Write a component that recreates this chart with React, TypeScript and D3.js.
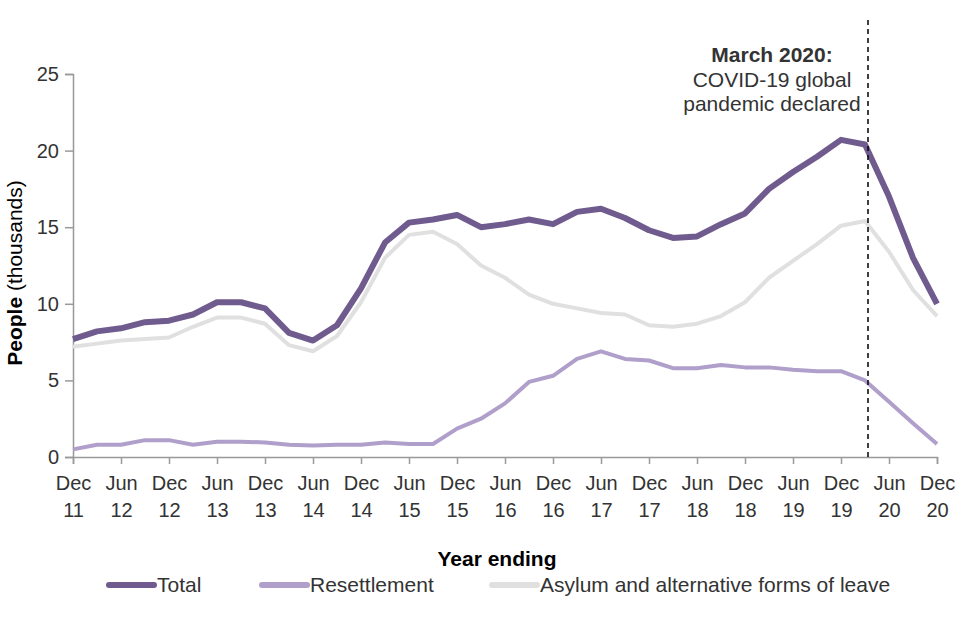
import * as d3 from 'd3';
import { useEffect, useRef } from 'react';

// quarterly, year ending Dec 2011 .. Dec 2020
const quarters = [
  'Dec 11', 'Mar 12', 'Jun 12', 'Sep 12', 'Dec 12', 'Mar 13', 'Jun 13', 'Sep 13', 'Dec 13',
  'Mar 14', 'Jun 14', 'Sep 14', 'Dec 14', 'Mar 15', 'Jun 15', 'Sep 15', 'Dec 15',
  'Mar 16', 'Jun 16', 'Sep 16', 'Dec 16', 'Mar 17', 'Jun 17', 'Sep 17', 'Dec 17',
  'Mar 18', 'Jun 18', 'Sep 18', 'Dec 18', 'Mar 19', 'Jun 19', 'Sep 19', 'Dec 19',
  'Mar 20', 'Jun 20', 'Sep 20', 'Dec 20',
];

const total = [
  7.7, 8.2, 8.4, 8.8, 8.9, 9.3, 10.1, 10.1, 9.7,
  8.1, 7.6, 8.6, 11.0, 14.0, 15.3, 15.5, 15.8,
  15.0, 15.2, 15.5, 15.2, 16.0, 16.2, 15.6, 14.8,
  14.3, 14.4, 15.2, 15.9, 17.5, 18.6, 19.6, 20.7,
  20.4, 17.0, 13.0, 10.0,
];

const resettlement = [
  0.5, 0.8, 0.8, 1.1, 1.1, 0.8, 1.0, 1.0, 0.95,
  0.8, 0.75, 0.8, 0.8, 0.95, 0.85, 0.85, 1.85,
  2.5, 3.5, 4.9, 5.3, 6.4, 6.9, 6.4, 6.3,
  5.8, 5.8, 6.0, 5.85, 5.85, 5.7, 5.6, 5.6,
  5.0, 3.6, 2.2, 0.85,
];

const asylum = [
  7.2, 7.4, 7.6, 7.7, 7.8, 8.5, 9.1, 9.1, 8.7,
  7.3, 6.9, 7.9, 10.1, 13.0, 14.5, 14.7, 13.9,
  12.5, 11.7, 10.6, 10.0, 9.7, 9.4, 9.3, 8.6,
  8.5, 8.7, 9.2, 10.1, 11.7, 12.8, 13.9, 15.1,
  15.4, 13.4, 10.9, 9.2,
];

const yTicks = [0, 5, 10, 15, 20, 25];
const seriesNames = ['Total', 'Resettlement', 'Asylum and alternative forms of leave'];
const eventQuarter = 'Mar 20';
const eventLines = ['March 2020:', 'COVID-19 global', 'pandemic declared'];

const FONT = '"Liberation Sans", Arial, Helvetica, sans-serif';
const TEXT = '#333333';

const App = () => {
  const ref = useRef<SVGSVGElement>(null);

  useEffect(() => {
    const svg = d3.select(ref.current);
    svg.selectAll('*').remove();

    const left = 73, right = 937, top = 74, bottom = 457;
    const x = d3.scalePoint<string>().domain(quarters).range([left, right]);
    const y = d3.scaleLinear().domain([0, 25]).range([bottom, top]);

    const g = svg.append('g').style('font-family', FONT);

    // y axis
    const yAxis = g.append('g').attr('transform', `translate(${left},0)`)
      .call(d3.axisLeft(y).tickValues(yTicks).tickSize(8).tickPadding(6));
    yAxis.select('.domain').attr('stroke', '#999').attr('stroke-width', 1.5);
    yAxis.selectAll('.tick line').attr('stroke', '#999').attr('stroke-width', 1.5);
    yAxis.selectAll('.tick text').attr('fill', TEXT).style('font-size', '20px').style('font-family', FONT);

    // x axis (labels every second quarter)
    const labelled = quarters.filter((q, i) => i % 2 === 0);
    const xAxis = g.append('g').attr('transform', `translate(0,${bottom})`)
      .call(d3.axisBottom(x).tickValues(labelled).tickSize(7).tickFormat(() => ''));
    xAxis.select('.domain').attr('stroke', '#999').attr('stroke-width', 1.5);
    xAxis.selectAll('.tick line').attr('stroke', '#999').attr('stroke-width', 1.5);
    xAxis.selectAll('.tick').each(function (d: any) {
      const [m, yr] = (d as string).split(' ');
      const t = d3.select(this).append('text')
        .attr('fill', TEXT).attr('text-anchor', 'middle')
        .style('font-size', '20px').style('font-family', FONT);
      t.append('tspan').attr('x', 0).attr('y', 33).text(m);
      t.append('tspan').attr('x', 0).attr('y', 60).text(yr);
    });

    // titles
    const yt = g.append('text')
      .attr('transform', 'translate(22,273) rotate(-90)')
      .attr('text-anchor', 'middle').attr('fill', 'black').style('font-size', '21px');
    yt.append('tspan').style('font-weight', 'bold').text('People');
    yt.append('tspan').text(' (thousands)');

    g.append('text').attr('x', 497).attr('y', 566).attr('text-anchor', 'middle')
      .attr('fill', 'black').style('font-size', '21px').style('font-weight', 'bold')
      .text('Year ending');

    // lines
    const series = [
      { name: seriesNames[2], values: asylum, color: '#e0e0e0', width: 4 },
      { name: seriesNames[1], values: resettlement, color: '#b09fca', width: 4 },
      { name: seriesNames[0], values: total, color: '#6f5b8d', width: 6 },
    ];
    const line = d3.line<number>()
      .x((d, i) => x(quarters[i]) as number)
      .y((d) => y(d));
    series.forEach((s) => {
      g.append('path').datum(s.values)
        .attr('fill', 'none').attr('stroke', s.color).attr('stroke-width', s.width)
        .attr('stroke-linejoin', 'round').attr('d', line);
    });

    // event marker
    const ex = x(eventQuarter) as number;
    g.append('line').attr('x1', ex + 3).attr('x2', ex + 3).attr('y1', 20).attr('y2', bottom)
      .attr('stroke', 'black').attr('stroke-width', 1.5).attr('stroke-dasharray', '5,4');
    eventLines.forEach((t, i) => {
      g.append('text').attr('x', 772).attr('y', 62 + i * 24.5).attr('text-anchor', 'middle')
        .attr('fill', TEXT).style('font-size', '21px')
        .style('font-weight', i === 0 ? 'bold' : 'normal').text(t);
    });

    // legend
    const legendX = [107, 260, 490];
    const legendOrder = [series[2], series[1], series[0]];
    legendOrder.forEach((s, i) => {
      const lg = g.append('g').attr('transform', `translate(${legendX[i]},585)`);
      lg.append('line').attr('x1', 2).attr('x2', 47).attr('y1', 0).attr('y2', 0)
        .attr('stroke', s.color).attr('stroke-width', 6).attr('stroke-linecap', 'round');
      lg.append('text').attr('x', 50).attr('y', 7).attr('fill', TEXT)
        .style('font-size', '21px').text(s.name);
    });
  }, []);

  return (
    <svg ref={ref} width={960} height={640}
      style={{ position: 'absolute', left: 0, top: 0, background: 'white' }} />
  );
};

export default App;
